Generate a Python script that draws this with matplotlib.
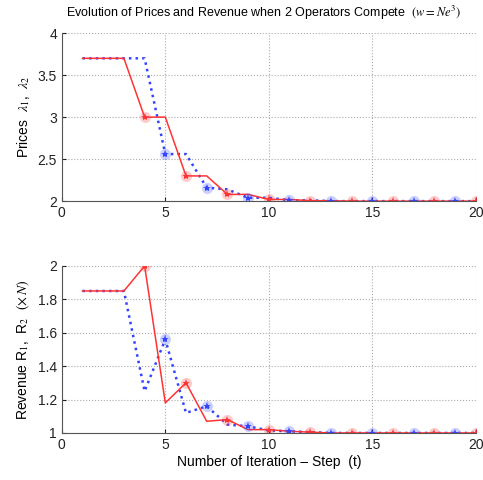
import matplotlib
matplotlib.use('Agg')
import matplotlib.pyplot as plt
import numpy as np

plt.rcParams['font.family'] = ['Liberation Sans', 'DejaVu Sans']
plt.rcParams['mathtext.fontset'] = 'stix'

t = np.arange(1, 21)

# prices
price1 = [3.7, 3.7, 3.7, 3.0, 3.0, 2.3, 2.3, 2.08, 2.08, 2.02,
          2.02, 2.005, 2.005, 2.0, 2.0, 2.0, 2.0, 2.0, 2.0, 2.0]
price2 = [3.7, 3.7, 3.7, 3.7, 2.56, 2.56, 2.16, 2.14, 2.04, 2.04,
          2.01, 2.01, 2.0, 2.0, 2.0, 2.0, 2.0, 2.0, 2.0, 2.0]

# revenue (x N)
rev1 = [1.85, 1.85, 1.85, 2.0, 1.18, 1.3, 1.07, 1.08, 1.02, 1.02,
        1.01, 1.005, 1.0, 1.0, 1.0, 1.0, 1.0, 1.0, 1.0, 1.0]
rev2 = [1.85, 1.85, 1.85, 1.25, 1.56, 1.12, 1.16, 1.05, 1.04, 1.015,
        1.01, 1.005, 1.0, 1.0, 1.0, 1.0, 1.0, 1.0, 1.0, 1.0]

red = '#ff3333'
blue = '#3344ff'

fig = plt.figure(figsize=(4.83, 4.80), dpi=100)
ax1 = fig.add_axes([0.128, 0.581, 0.857, 0.350])
ax2 = fig.add_axes([0.128, 0.098, 0.857, 0.348])


def draw(ax, y1, y2, ylim, yticks, yticklabels, ylabel):
    ax.plot(t, y2, ':', color=blue, lw=1.8)
    ax.plot(t, y1, '-', color=red, lw=1.1)
    ev = [i for i in range(len(t)) if t[i] >= 4 and t[i] % 2 == 0]
    od = [i for i in range(len(t)) if t[i] >= 5 and t[i] % 2 == 1]
    ax.plot(t[od], np.array(y2)[od], 'o', color=blue, ms=8, alpha=0.25, mew=0)
    ax.plot(t[od], np.array(y2)[od], '*', color=blue, ms=6, mew=0)
    ax.plot(t[ev], np.array(y1)[ev], 'o', color=red, ms=8, alpha=0.25, mew=0)
    ax.plot(t[ev], np.array(y1)[ev], '*', color=red, ms=6, mew=0)
    ax.set_xlim(0, 20)
    ax.set_ylim(*ylim)
    ax.set_xticks([0, 5, 10, 15, 20])
    ax.set_yticks(yticks)
    ax.set_yticklabels(yticklabels)
    ax.grid(True, linestyle=':', color='#aaaaaa', lw=0.8)
    ax.spines['top'].set_visible(False)
    ax.spines['right'].set_visible(False)
    for s in ['left', 'bottom']:
        ax.spines[s].set_color('#555555')
    ax.tick_params(labelsize=10, length=3, direction='in', colors='#222222')
    ax.set_ylabel(ylabel, fontsize=10)


draw(ax1, price1, price2, (2, 4), [2, 2.5, 3, 3.5, 4],
     ['2', '2.5', '3', '3.5', '4'], r'Prices  $\lambda_1$,  $\lambda_2$')
draw(ax2, rev1, rev2, (1, 2), [1, 1.2, 1.4, 1.6, 1.8, 2],
     ['1', '1.2', '1.4', '1.6', '1.8', '2'],
     r'Revenue R$_1$,  R$_2$  $(\times\, N)$')

fig.text(0.545, 0.972, r'Evolution of Prices and Revenue when 2 Operators Compete  $\left(w = Ne^3\right)$',
         fontsize=9, ha='center', va='center')
ax2.set_xlabel('Number of Iteration \u2013 Step  (t)', fontsize=10, labelpad=2)

fig.savefig('out.png', dpi=100)
